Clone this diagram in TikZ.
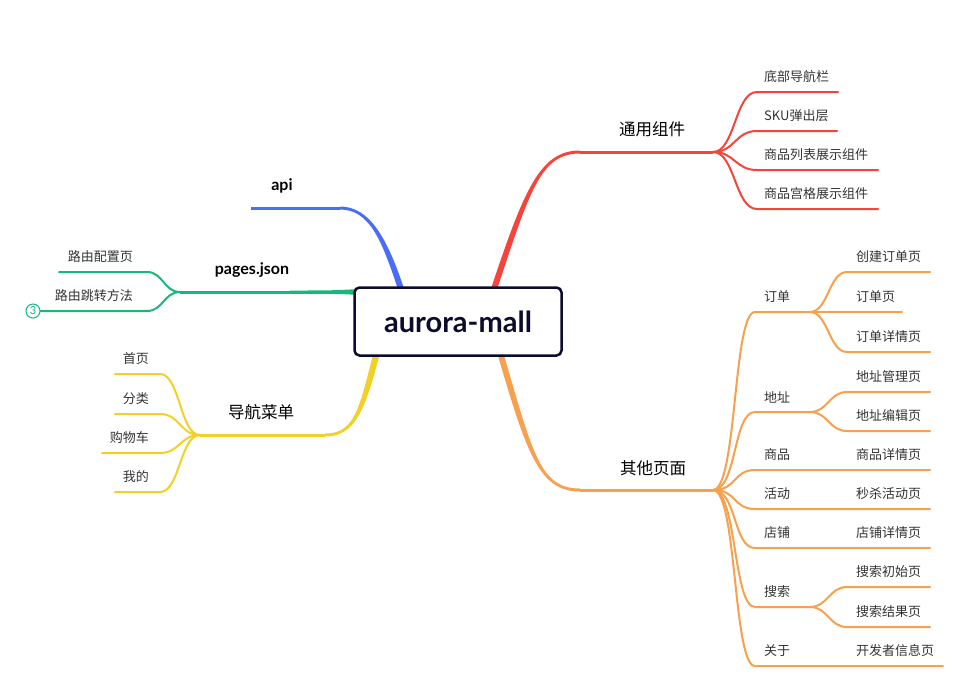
\documentclass[tikz,border=0pt]{standalone}
\usepackage{fontspec}
\setmainfont{Noto Sans CJK SC}
\newfontfamily\latinbold{Lato}
\usetikzlibrary{calc}
\definecolor{cred}{HTML}{F5443B}
\definecolor{cblue}{HTML}{4A6CF7}
\definecolor{cgreen}{HTML}{16B97B}
\definecolor{cyellow}{HTML}{F2D127}
\definecolor{corange}{HTML}{F7A04D}
\definecolor{cnavy}{HTML}{0B0B2D}
\definecolor{ctxt}{HTML}{333333}
% tapered main branch: color, P0, C1, C2, P3, start offset, end offset
\newcommand\tbranch[7]{%
  \fill[#1] ($(#2)+#6$) .. controls ($(#3)+#6$) and ($(#4)+#7$) .. ($(#5)+#7$)
    -- ($(#5)-#7$) .. controls ($(#4)-#7$) and ($(#3)-#6$) .. ($(#2)-#6$) -- cycle;}
\begin{document}
\begin{tikzpicture}[x=1pt,y=-1pt,
  kid/.style={line width=2pt, line cap=round},
  trunk/.style={line width=3pt},
  lbl/.style={font=\fontsize{13}{15}\selectfont, text=ctxt, inner sep=0pt},
  mainlbl/.style={font=\fontsize{16.5}{19}\selectfont, text=black, inner sep=0pt},
  latinlbl/.style={font=\latinbold\bfseries\fontsize{16}{19}\selectfont, text=black, inner sep=0pt},
  rootbox/.style={draw=cnavy, line width=2.5pt, rounded corners=5pt, fill=white,
    minimum width=207pt, minimum height=68pt, inner sep=0pt,
    font=\latinbold\bfseries\fontsize{29}{33}\selectfont, text=cnavy}]
\useasboundingbox (0,0) rectangle (977,689);

% ---------- coordinates ----------
% red
\coordinate (rP0) at (493,292); \coordinate (rC1) at (527,190);
\coordinate (rC2) at (540,152); \coordinate (rP3) at (580,152);
\coordinate (rB) at (713,152);
% blue
\coordinate (bP0) at (402,292); \coordinate (bC1) at (385,240);
\coordinate (bC2) at (370,208); \coordinate (bP3) at (340,208);
\coordinate (bE) at (251,208);
% green
\coordinate (gP0) at (356,292); \coordinate (gB) at (180,292);
% yellow
\coordinate (yP0) at (377,352); \coordinate (yC1) at (362,410);
\coordinate (yC2) at (355,435); \coordinate (yP3) at (325,435);
\coordinate (yB) at (200,435);
% orange
\coordinate (oP0) at (500,352); \coordinate (oC1) at (530,455);
\coordinate (oC2) at (540,490); \coordinate (oP3) at (580,490);
\coordinate (oB) at (713,490);

% ---------- main branches ----------
\tbranch{cred}{rP0}{rC1}{rC2}{rP3}{(-2.8,-1)}{(0,-1.5)}
\draw[cred,trunk] (rP3) -- (rB);
\tbranch{cblue}{bP0}{bC1}{bC2}{bP3}{(2.8,-1)}{(0,-1.5)}
\draw[cblue,trunk] (bP3) -- (bE);
\fill[cgreen] (290,290.5) .. controls (330,290.5) .. (356,289.2) -- (356,294.8) .. controls (330,293.5) .. (290,293.5) -- cycle;
\draw[cgreen,trunk] (gP0) -- (gB);
\tbranch{cyellow}{yP0}{yC1}{yC2}{yP3}{(3,1)}{(0,1.5)}
\draw[cyellow,trunk] (yP3) -- (yB);
\tbranch{corange}{oP0}{oC1}{oC2}{oP3}{(-2.8,1)}{(0,1.5)}
\draw[corange,trunk] (oP3) -- (oB);

% ---------- root ----------
\node[rootbox] (root) at (458,321.5) {aurora-mall};

% ---------- main labels ----------
\node[mainlbl] (lr) at (652,129) {通用组件};
\node[latinlbl] (lb) at (282,186) {api};
\node[latinlbl] (lg) at (252,270) {pages.json};
\node[mainlbl] (ly) at (261,412) {导航菜单};
\node[mainlbl] (lo) at (653,468) {其他页面};

% ---------- red children ----------
\foreach \i/\y/\e/\t in {1/92/838/底部导航栏, 2/131/837/SKU弹出层, 3/170/878/商品列表展示组件, 4/209/878/商品宫格展示组件}{
  \coordinate (r\i s) at (757,\y);
  \coordinate (r\i e) at (\e,\y);
  \draw[cred,kid] (rB) .. controls +(22,0) and +(-22,0) .. (r\i s) -- (r\i e);
  \node[lbl,anchor=west] (rl\i) at (764,\y-15) {\t};
}

% ---------- green children ----------
\coordinate (g1s) at (147,272); \coordinate (g1e) at (59,272);
\coordinate (g2s) at (147,311); \coordinate (g2e) at (40,311);
\draw[cgreen,kid] (gB) .. controls +(-16,0) and +(16,0) .. (g1s) -- (g1e);
\draw[cgreen,kid] (gB) .. controls +(-16,0) and +(16,0) .. (g2s) -- (g2e);
\node[lbl,anchor=east] (gl1) at (133,257) {路由配置页};
\node[lbl,anchor=east] (gl2) at (133,296) {路由跳转方法};
\node[draw=cgreen, line width=1pt, circle, minimum size=14pt, inner sep=0pt,
  text=cgreen, font=\latinbold\fontsize{11}{11}\selectfont, fill=white] (badge) at (33,311) {3};

% ---------- yellow children ----------
\foreach \i/\y/\e/\t in {1/374/115/首页, 2/414/115/分类, 3/453/102/购物车, 4/492/115/我的}{
  \coordinate (y\i s) at (160,\y);
  \coordinate (y\i e) at (\e,\y);
  \draw[cyellow,kid] (yB) .. controls +(-20,0) and +(20,0) .. (y\i s) -- (y\i e);
  \node[lbl,anchor=east] (yl\i) at (149,\y-15) {\t};
}

% ---------- orange children ----------
\foreach \i/\y/\e/\t in {1/312/810/订单, 2/412/810/地址, 3/470/930/商品, 4/509/930/活动, 5/548/930/店铺, 6/607/810/搜索, 7/666/943/关于}{
  \coordinate (o\i s) at (755,\y);
  \coordinate (o\i e) at (\e,\y);
  \draw[corange,kid] (oB) .. controls +(24,0) and +(-22,0) .. (o\i s) -- (o\i e);
  \node[lbl,anchor=west] (ol\i) at (764,\y-15) {\t};
}
% sub branches
\foreach \p/\k/\y/\e/\t in {1/a/272/930/创建订单页, 1/c/352/930/订单详情页, 2/a/392/930/地址管理页, 2/b/431/930/地址编辑页, 6/a/587/930/搜索初始页, 6/b/627/930/搜索结果页}{
  \coordinate (s\p\k s) at (847,\y);
  \coordinate (s\p\k e) at (\e,\y);
  \draw[corange,kid] (o\p e) .. controls +(18,0) and +(-18,0) .. (s\p\k s) -- (s\p\k e);
  \node[lbl,anchor=west] (sl\p\k) at (856,\y-15) {\t};
}
\coordinate (s1be) at (902,312);
\draw[corange,kid] (o1e) -- (s1be);
\node[lbl,anchor=west] (sl1b) at (856,297) {订单页};
\node[lbl,anchor=west] (sl3) at (856,455) {商品详情页};
\node[lbl,anchor=west] (sl4) at (856,494) {秒杀活动页};
\node[lbl,anchor=west] (sl5) at (856,533) {店铺详情页};
\node[lbl,anchor=west] (sl7) at (856,651) {开发者信息页};
\end{tikzpicture}
\end{document}
